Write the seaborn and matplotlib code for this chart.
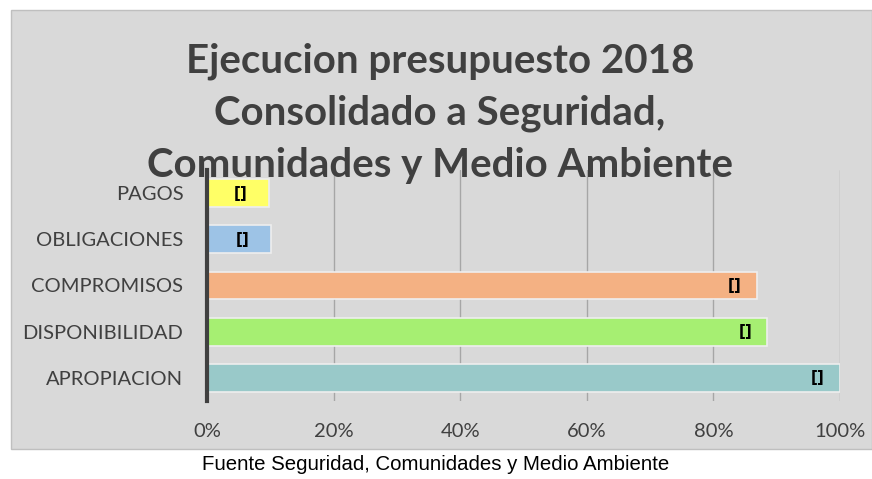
import numpy as np
import pandas as pd
import matplotlib.pyplot as plt
import matplotlib.patches as mpatches
from matplotlib.ticker import PercentFormatter
import seaborn as sns

# values (fraction of APROPIACION)
categories = ['PAGOS', 'OBLIGACIONES', 'COMPROMISOS', 'DISPONIBILIDAD', 'APROPIACION']
values     = [0.098, 0.101, 0.869, 0.885, 1.00]
colors     = ['#ffff66', '#9dc3e6', '#f4b183', '#a6ef72', '#99c9c9']
labels     = ['[]', '[]', '[]', '[]', '[]']
title      = 'Ejecucion presupuesto 2018\nConsolidado a Seguridad,\nComunidades y Medio Ambiente'
caption    = 'Fuente Seguridad, Comunidades y Medio Ambiente'

df = pd.DataFrame({'cat': categories, 'val': values})

sns.set_style('white')
plt.rcParams['font.family'] = ['Lato', 'DejaVu Sans']

W, H = 872, 479
fig = plt.figure(figsize=(W / 100, H / 100), dpi=100)
fig.patch.set_facecolor('white')
# grey chart area
bg = mpatches.Rectangle((11 / W, 1 - 449 / H), (W - 11) / W, 439 / H,
                        transform=fig.transFigure, facecolor='#d9d9d9',
                        edgecolor='#bfbfbf', lw=1, zorder=0)
fig.patches.append(bg)

ax = fig.add_axes([207 / W, 1 - 401 / H, 633 / W, 231 / H])
ax.set_zorder(2)
ax.set_facecolor('none')
sns.barplot(data=df, y='cat', x='val', hue='cat', palette=colors, order=categories,
            orient='h', width=0.6, saturation=1, edgecolor='#eeeeee', linewidth=1.2,
            legend=False, ax=ax, zorder=3)

ax.set_xlim(0, 1)
ax.set_ylim(4.5, -0.5)
ax.set_xticks(np.linspace(0, 1, 6))
ax.xaxis.set_major_formatter(PercentFormatter(1.0, decimals=0))
ax.grid(axis='x', color='#a6a6a6', lw=1, zorder=0)
ax.set_axisbelow(True)
for s in ['top', 'right', 'bottom']:
    ax.spines[s].set_visible(False)
ax.spines['left'].set_color('#404040')
ax.spines['left'].set_linewidth(3)
ax.spines['left'].set_zorder(5)
ax.tick_params(axis='both', length=0, labelsize=14.5, colors='#404040')
ax.tick_params(axis='x', pad=16)
ax.tick_params(axis='y', pad=17)
ax.set_xlabel('')
ax.set_ylabel('')

for i, (v, lab) in enumerate(zip(values, labels)):
    off = -28 if v < 0.5 else -22
    ax.annotate(lab, (v, i), xytext=(off, 0), textcoords='offset pixels',
                ha='center', va='center', fontsize=11, fontweight='bold',
                family=['DejaVu Sans Condensed', 'DejaVu Sans'],
                color='black', zorder=6)

fig.text(440 / W, 1 - 113 / H, title, ha='center', va='center', fontsize=29,
         fontweight='bold', color='#404040', linespacing=1.5, zorder=3)
fig.text(436 / W, 1 - 465 / H, caption, ha='center', va='center', fontsize=14.7,
         family=['Liberation Sans', 'DejaVu Sans'], color='black')

fig.savefig('out.png', dpi=100, facecolor='white')
